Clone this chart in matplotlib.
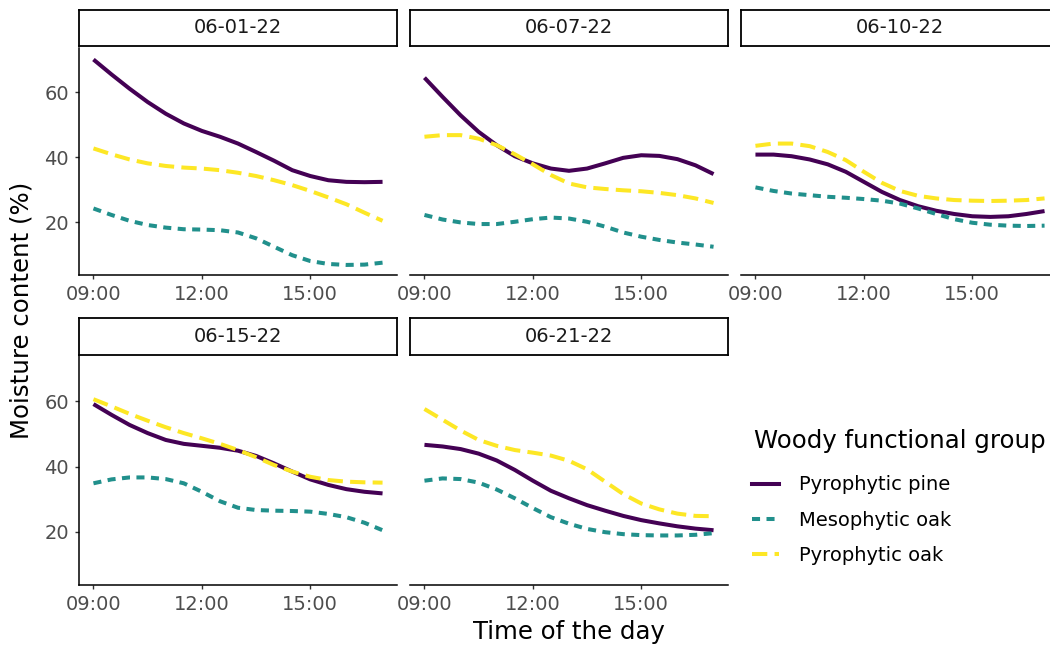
import matplotlib.pyplot as plt
from matplotlib.lines import Line2D

plt.rcParams['font.family'] = ['DejaVu Sans']

# readings every half hour, 09:00 to 17:00 (decimal hours)
hours = [9.0, 9.5, 10.0, 10.5, 11.0, 11.5, 12.0, 12.5, 13.0,
         13.5, 14.0, 14.5, 15.0, 15.5, 16.0, 16.5, 17.0]
dates = ['06-01-22', '06-07-22', '06-10-22', '06-15-22', '06-21-22']
groups = ['Pyrophytic pine', 'Mesophytic oak', 'Pyrophytic oak']

# smoothed moisture content (%) per date, one list per date
pine = [
    [70.1, 65.5, 61.1, 57.0, 53.4, 50.4, 48.1, 46.3, 44.2, 41.6, 38.9, 36.0, 34.2, 32.9, 32.4, 32.3, 32.4],
    [64.5, 58.6, 52.9, 47.8, 43.7, 40.3, 38.1, 36.5, 35.8, 36.5, 38.1, 39.8, 40.6, 40.4, 39.4, 37.5, 34.8],
    [40.8, 40.8, 40.3, 39.3, 37.8, 35.5, 32.4, 29.3, 26.8, 24.9, 23.5, 22.5, 21.8, 21.6, 21.8, 22.5, 23.4],
    [59.2, 55.9, 52.8, 50.3, 48.2, 47.0, 46.4, 45.8, 44.9, 43.3, 41.0, 38.5, 36.1, 34.4, 33.1, 32.3, 31.8],
    [46.7, 46.2, 45.4, 44.0, 41.9, 39.0, 35.7, 32.6, 30.3, 28.2, 26.5, 24.9, 23.6, 22.6, 21.7, 21.0, 20.5],
]
meso_oak = [
    [24.2, 22.2, 20.4, 19.1, 18.3, 17.8, 17.7, 17.5, 16.8, 15.0, 12.4, 9.8, 8.0, 7.1, 6.8, 6.9, 7.5],
    [22.2, 20.8, 19.9, 19.4, 19.4, 20.1, 20.9, 21.4, 21.1, 20.1, 18.6, 16.8, 15.5, 14.5, 13.7, 13.1, 12.4],
    [30.7, 29.6, 28.8, 28.3, 27.8, 27.5, 27.1, 26.6, 25.7, 24.2, 22.5, 20.9, 19.8, 19.2, 18.9, 18.8, 18.9],
    [34.9, 36.1, 36.7, 36.7, 36.2, 34.9, 32.3, 29.4, 27.4, 26.7, 26.5, 26.4, 26.2, 25.5, 24.5, 22.8, 20.5],
    [35.7, 36.4, 36.2, 35.1, 33.0, 30.3, 27.3, 24.5, 22.5, 20.9, 19.9, 19.3, 19.0, 18.9, 18.9, 19.1, 19.6],
]
pyro_oak = [
    [42.7, 40.9, 39.3, 38.1, 37.3, 36.8, 36.5, 36.0, 35.2, 34.2, 32.9, 31.4, 29.6, 27.6, 25.5, 22.9, 20.4],
    [46.3, 46.8, 46.8, 45.7, 43.7, 40.9, 37.8, 34.5, 31.9, 30.7, 30.2, 29.8, 29.5, 29.0, 28.3, 27.3, 25.9],
    [43.5, 44.2, 44.2, 43.4, 41.6, 39.1, 35.5, 32.1, 29.6, 28.1, 27.3, 26.8, 26.6, 26.5, 26.6, 26.8, 27.3],
    [60.7, 58.5, 56.2, 54.1, 52.1, 50.3, 48.7, 47.0, 45.1, 42.9, 40.5, 38.5, 36.9, 35.9, 35.4, 35.2, 35.1],
    [57.7, 54.4, 51.1, 48.2, 46.4, 45.1, 44.3, 43.4, 41.8, 39.2, 35.4, 31.6, 28.7, 26.9, 25.6, 24.9, 24.8],
]
series = [pine, meso_oak, pyro_oak]

colors = ['#440154', '#21908C', '#FDE725']
dashes = [None, (0, (2.0, 1.6)), (0, (3.8, 1.8))]

xticks = [9, 12, 15]
xticklabels = ['09:00', '12:00', '15:00']
yticks = [20, 40, 60]

W, H = 1050, 647
fig = plt.figure(figsize=(W / 100, H / 100), dpi=100)


def px_axes(x0, y0, x1, y1):
    return fig.add_axes([x0 / W, 1 - y1 / H, (x1 - x0) / W, (y1 - y0) / H])


# panel boxes in pixels: (left, strip top, panel bottom)
cols = [79, 410, 741]
rows = [(9.5, 275), (318.5, 585)]
pw = 318
strip_h = 36
gap = 2

for i, date in enumerate(dates):
    r, c = divmod(i, 3)
    x0 = cols[c]
    st, pb = rows[r]
    ax = px_axes(x0, st + strip_h + gap, x0 + pw, pb)
    for k in range(3):
        ls = '-' if dashes[k] is None else dashes[k]
        ax.plot(hours, series[k][i], color=colors[k], lw=2.9, linestyle=ls,
                solid_capstyle='butt', dash_capstyle='butt')
    ax.set_xlim(8.6, 17.4)
    ax.set_ylim(3.7, 73.8)
    ax.set_xticks(xticks)
    ax.set_xticklabels(xticklabels)
    ax.set_yticks(yticks)
    for s in ['top', 'right']:
        ax.spines[s].set_visible(False)
    ax.spines['bottom'].set_linewidth(1.1)
    ax.spines['left'].set_linewidth(1.1)
    ax.tick_params(direction='out', length=3.2, width=1.0, color='#333333',
                   labelcolor='#4D4D4D', labelsize=14, pad=4)
    if c != 0:
        ax.spines['left'].set_visible(False)
        ax.tick_params(axis='y', left=False, labelleft=False)
    ax.patch.set_alpha(0)

    sax = px_axes(x0, st, x0 + pw, st + strip_h)
    sax.set_xticks([])
    sax.set_yticks([])
    for s in sax.spines.values():
        s.set_linewidth(1.3)
        s.set_color('black')
    sax.text(0.5, 0.5, date, ha='center', va='center', fontsize=14,
             color='#1A1A1A', transform=sax.transAxes)

fig.text(22 / W, 1 - 310 / H, 'Moisture content (%)', rotation=90,
         ha='center', va='center', fontsize=17.6)
fig.text(569 / W, 1 - 632 / H, 'Time of the day', ha='center', va='center',
         fontsize=17.6)

# legend: title placed separately to get the ggplot-like gap
fig.text(754 / W, 1 - 441 / H, 'Woody functional group', ha='left',
         va='center', fontsize=17.6)
handles = [Line2D([], [], color=colors[k], lw=2.9,
                  linestyle='-' if dashes[k] is None else dashes[k])
           for k in range(3)]
leg = fig.legend(handles, groups, loc='center left',
                 bbox_to_anchor=(752 / W, 1 - 520 / H), frameon=False,
                 fontsize=14, handlelength=1.4, handletextpad=1.0,
                 labelspacing=0.83, borderpad=0, borderaxespad=0)

fig.savefig('out.png', dpi=100)
